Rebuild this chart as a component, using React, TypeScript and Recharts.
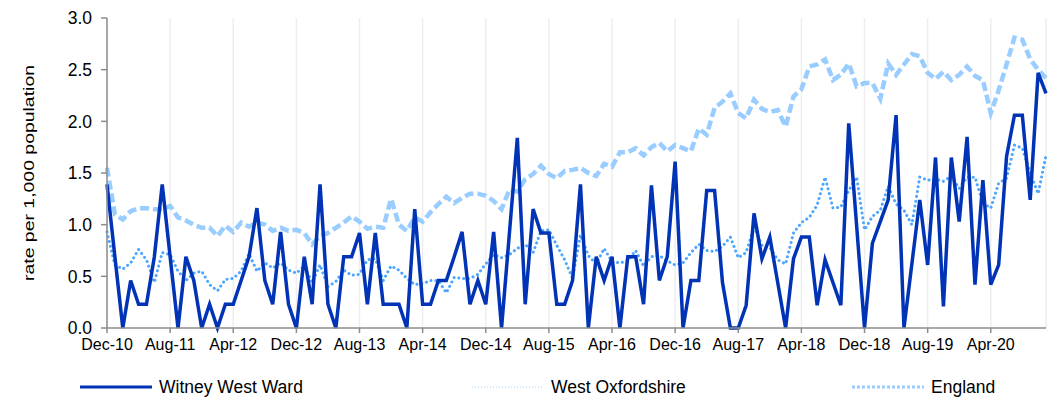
import { LineChart, Line, XAxis, YAxis, CartesianGrid, Legend, Label } from 'recharts';

const categories = [
  'Dec-10',
  'Jan-11', 'Feb-11', 'Mar-11', 'Apr-11', 'May-11', 'Jun-11', 'Jul-11', 'Aug-11', 'Sep-11', 'Oct-11', 'Nov-11', 'Dec-11',
  'Jan-12', 'Feb-12', 'Mar-12', 'Apr-12', 'May-12', 'Jun-12', 'Jul-12', 'Aug-12', 'Sep-12', 'Oct-12', 'Nov-12', 'Dec-12',
  'Jan-13', 'Feb-13', 'Mar-13', 'Apr-13', 'May-13', 'Jun-13', 'Jul-13', 'Aug-13', 'Sep-13', 'Oct-13', 'Nov-13', 'Dec-13',
  'Jan-14', 'Feb-14', 'Mar-14', 'Apr-14', 'May-14', 'Jun-14', 'Jul-14', 'Aug-14', 'Sep-14', 'Oct-14', 'Nov-14', 'Dec-14',
  'Jan-15', 'Feb-15', 'Mar-15', 'Apr-15', 'May-15', 'Jun-15', 'Jul-15', 'Aug-15', 'Sep-15', 'Oct-15', 'Nov-15', 'Dec-15',
  'Jan-16', 'Feb-16', 'Mar-16', 'Apr-16', 'May-16', 'Jun-16', 'Jul-16', 'Aug-16', 'Sep-16', 'Oct-16', 'Nov-16', 'Dec-16',
  'Jan-17', 'Feb-17', 'Mar-17', 'Apr-17', 'May-17', 'Jun-17', 'Jul-17', 'Aug-17', 'Sep-17', 'Oct-17', 'Nov-17', 'Dec-17',
  'Jan-18', 'Feb-18', 'Mar-18', 'Apr-18', 'May-18', 'Jun-18', 'Jul-18', 'Aug-18', 'Sep-18', 'Oct-18', 'Nov-18', 'Dec-18',
  'Jan-19', 'Feb-19', 'Mar-19', 'Apr-19', 'May-19', 'Jun-19', 'Jul-19', 'Aug-19', 'Sep-19', 'Oct-19', 'Nov-19', 'Dec-19',
  'Jan-20', 'Feb-20', 'Mar-20', 'Apr-20', 'May-20', 'Jun-20', 'Jul-20', 'Aug-20', 'Sep-20', 'Oct-20', 'Nov-20',
];

// rate per 1,000 population, one value per month
const witneyWestWard = [
  1.39, 0.69, 0, 0.46, 0.23, 0.23, 0.69, 1.39, 0.69, 0,
  0.69, 0.46, 0, 0.23, 0, 0.23, 0.23, 0.46, 0.69, 1.16,
  0.46, 0.23, 0.93, 0.23, 0, 0.69, 0.23, 1.39, 0.23, 0,
  0.69, 0.69, 0.92, 0.23, 0.92, 0.23, 0.23, 0.23, 0, 1.15,
  0.23, 0.23, 0.46, 0.46, 0.69, 0.93, 0.23, 0.46, 0.23, 0.93,
  0, 0.92, 1.84, 0.23, 1.15, 0.92, 0.92, 0.23, 0.23, 0.46,
  1.39, 0, 0.69, 0.46, 0.69, 0, 0.69, 0.69, 0.23, 1.38,
  0.46, 0.69, 1.61, 0, 0.46, 0.46, 1.33, 1.33, 0.44, 0,
  0, 0.22, 1.11, 0.67, 0.88, 0.44, 0, 0.67, 0.88, 0.88,
  0.22, 0.66, 0.44, 0.22, 1.98, 0.99, 0, 0.82, 1.03, 1.24,
  2.06, 0, 0.62, 1.24, 0.61, 1.65, 0.21, 1.65, 1.03, 1.85,
  0.42, 1.43, 0.42, 0.61, 1.66, 2.06, 2.06, 1.24, 2.47, 2.27,
];

const westOxfordshire = [
  0.93, 0.61, 0.57, 0.63, 0.76, 0.66, 0.44, 0.73, 0.71, 0.55,
  0.46, 0.53, 0.55, 0.42, 0.36, 0.47, 0.48, 0.55, 0.72, 0.55,
  0.63, 0.58, 0.63, 0.56, 0.53, 0.6, 0.44, 0.61, 0.4, 0.45,
  0.56, 0.51, 0.52, 0.66, 0.67, 0.46, 0.6, 0.56, 0.48, 0.42,
  0.43, 0.46, 0.46, 0.34, 0.49, 0.48, 0.48, 0.52, 0.62, 0.71,
  0.68, 0.71, 0.77, 0.81, 0.73, 0.94, 0.95, 0.8, 0.66, 0.48,
  0.9, 0.7, 0.62, 0.77, 0.64, 0.63, 0.65, 0.75, 0.6, 0.69,
  0.7, 0.65, 0.61, 0.63, 0.73, 0.81, 0.75, 0.74, 0.79, 0.88,
  0.68, 0.73, 0.98, 0.8, 0.78, 0.66, 0.62, 0.92, 1.02, 1.07,
  1.19, 1.46, 1.16, 1.17, 1.33, 1.46, 0.95, 1.08, 1.14, 1.37,
  1.2, 1.14, 1.0, 1.46, 1.43, 1.44, 1.42, 1.47, 1.35, 1.46,
  1.46, 1.21, 1.16, 1.4, 1.45, 1.77, 1.74, 1.5, 1.3, 1.67,
];

const england = [
  1.55, 1.1, 1.05, 1.13, 1.16, 1.16, 1.15, 1.15, 1.18, 1.07,
  1.04, 1.0, 0.97, 0.97, 0.89, 0.99, 0.93, 1.02, 0.98, 1.02,
  1.0, 0.94, 0.97, 0.94, 0.95, 0.92, 0.81, 0.89, 0.92, 0.97,
  1.02, 1.08, 1.03, 0.96, 0.98, 0.97, 1.25, 1.0, 0.94, 1.07,
  1.03, 1.12, 1.2, 1.27, 1.21, 1.26, 1.3, 1.3, 1.28, 1.23,
  1.15, 1.34, 1.32, 1.44, 1.49, 1.57, 1.49, 1.45, 1.52, 1.53,
  1.55, 1.5, 1.47, 1.59, 1.56, 1.7, 1.7, 1.74, 1.67, 1.75,
  1.79, 1.71, 1.77, 1.74, 1.71, 1.93, 1.87, 2.13, 2.19, 2.27,
  2.08, 2.03, 2.21, 2.12, 2.09, 2.11, 1.95, 2.24, 2.31, 2.53,
  2.55, 2.6, 2.4, 2.45, 2.56, 2.34, 2.37, 2.37, 2.22, 2.56,
  2.45, 2.55, 2.65, 2.63, 2.47, 2.41, 2.48, 2.4, 2.45, 2.53,
  2.44, 2.4, 2.08, 2.3, 2.55, 2.81, 2.79, 2.6, 2.5, 2.42,
];

const tickLabels = [
  'Dec-10', 'Aug-11', 'Apr-12', 'Dec-12', 'Aug-13', 'Apr-14', 'Dec-14', 'Aug-15',
  'Apr-16', 'Dec-16', 'Aug-17', 'Apr-18', 'Dec-18', 'Aug-19', 'Apr-20',
];

const yTicks = [0, 0.5, 1, 1.5, 2, 2.5, 3];

const data = categories.map((month, i) => ({
  month,
  witney: witneyWestWard[i],
  westOx: westOxfordshire[i],
  england: england[i],
}));

const FONT = '"Liberation Sans", Arial, sans-serif';
const AXIS_GREY = '#8c8c8c';

const legendItems = [
  { label: 'Witney West Ward', color: '#0033b5', dash: undefined, width: 3, left: 80 },
  { label: 'West Oxfordshire', color: '#cfe6ff', dash: '1 2', width: 2, left: 472 },
  { label: 'England', color: '#99ccff', dash: '3 2', width: 3, left: 852 },
];

const renderLegend = () => (
  <div style={{ position: 'relative', height: 40, fontFamily: FONT, fontSize: 17.5, color: '#000' }}>
    {legendItems.map((item) => (
      <div
        key={item.label}
        style={{ position: 'absolute', left: item.left, top: 19, display: 'flex', alignItems: 'center', height: 20 }}
      >
        <svg width={72} height={6} style={{ marginRight: 7 }}>
          <line x1={0} y1={3} x2={72} y2={3} stroke={item.color} strokeWidth={item.width} strokeDasharray={item.dash} />
        </svg>
        <span>{item.label}</span>
      </div>
    ))}
  </div>
);

// the axis title in the source is drawn stretched along its length
const renderYLabel = (props: any) => {
  const vb = props.viewBox || { x: 27, y: 18, width: 80, height: 310 };
  const cx = vb.x + 1;
  const cy = vb.y + vb.height / 2;
  return (
    <text
      x={cx}
      y={cy}
      transform={`rotate(-90, ${cx}, ${cy})`}
      textAnchor="middle"
      dominantBaseline="central"
      textLength={216}
      lengthAdjust="spacingAndGlyphs"
      fill="#000"
      fontSize={15.5}
      fontFamily={FONT}
    >
      rate per 1,000 population
    </text>
  );
};

export default function App() {
  return (
    <div style={{ position: 'absolute', left: 0, top: 0, width: 1051, height: 398, background: '#fff' }}>
      <LineChart width={1051} height={398} data={data} margin={{ top: 18, right: 5, bottom: 0, left: 27 }}>
        <CartesianGrid vertical horizontal={false} stroke="#eeeeee" strokeWidth={1.5} />
        <XAxis
          dataKey="month"
          ticks={tickLabels}
          interval={0}
          height={30}
          stroke={AXIS_GREY}
          strokeWidth={1.5}
          tickSize={5}
          tickMargin={6}
          tick={{ fill: '#000', fontSize: 16, fontFamily: FONT }}
        />
        <YAxis
          domain={[0, 3]}
          ticks={yTicks}
          width={80}
          stroke={AXIS_GREY}
          strokeWidth={1.5}
          tickSize={6}
          tickMargin={9}
          tickFormatter={(v: number) => v.toFixed(1)}
          tick={{ fill: '#000', fontSize: 17.5, fontFamily: FONT }}
        >
          <Label content={renderYLabel} />
        </YAxis>
        <Legend verticalAlign="bottom" height={40} content={renderLegend} wrapperStyle={{ left: 0, width: 1051, bottom: 0 }} />
        <Line
          dataKey="england"
          stroke="#99ccff"
          strokeWidth={4.5}
          strokeDasharray="9 4"
          dot={false}
          isAnimationActive={false}
        />
        <Line
          dataKey="westOx"
          stroke="#4da6ff"
          strokeWidth={3}
          strokeDasharray="0.1 4.8"
          strokeLinecap="round"
          dot={false}
          isAnimationActive={false}
        />
        <Line
          dataKey="witney"
          stroke="#0033b5"
          strokeWidth={3.5}
          strokeLinejoin="miter"
          dot={false}
          isAnimationActive={false}
        />
      </LineChart>
    </div>
  );
}
